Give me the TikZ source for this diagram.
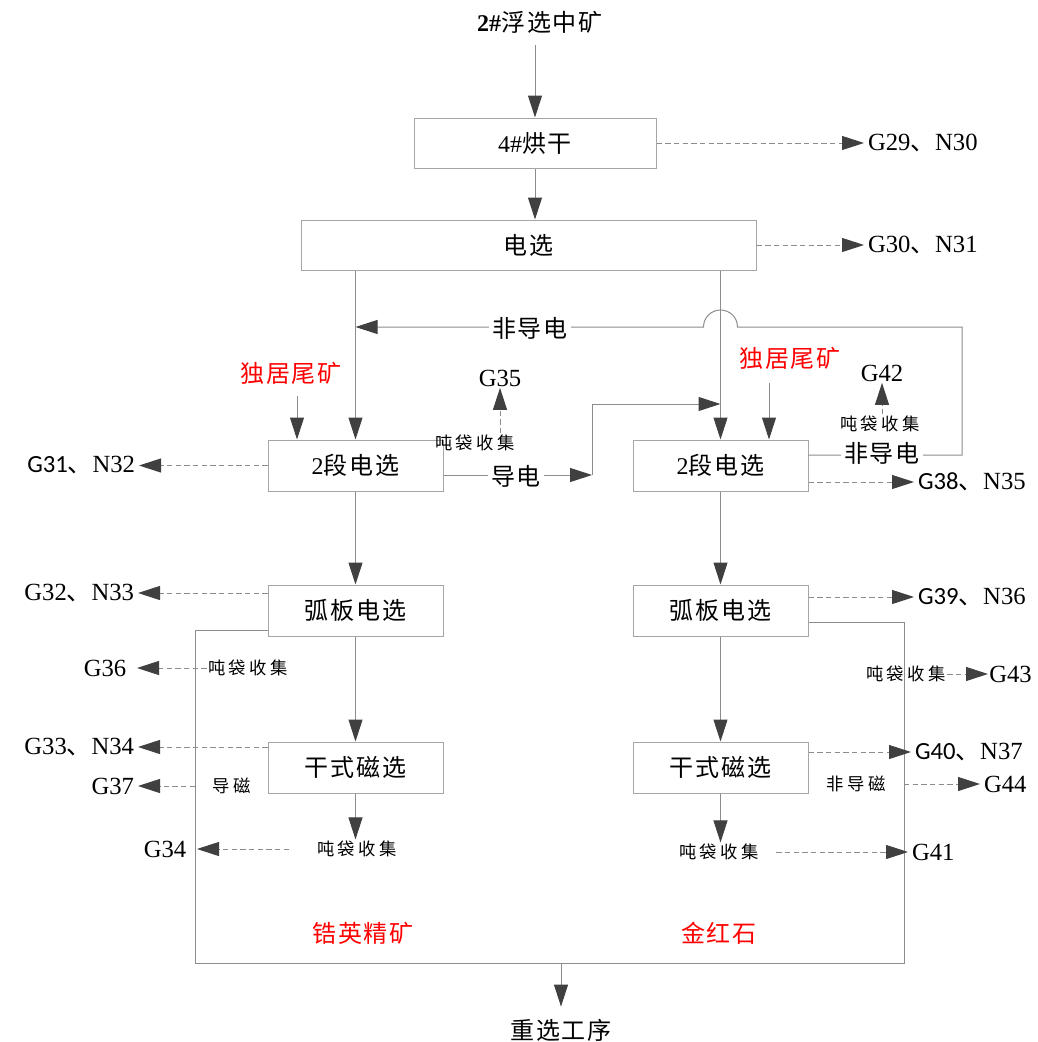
\documentclass[tikz,border=0pt]{standalone}
\usepackage{fontspec}
\setmainfont{Liberation Serif}
\newfontfamily\cjk{Noto Sans CJK SC}
\newfontfamily\cjkbox{Noto Sans CJK SC}[LetterSpace=8]
\newfontfamily\cjksm{Noto Sans CJK SC}[LetterSpace=20]
\newfontfamily\sansG{Carlito}
\usetikzlibrary{arrows.meta,calc}
\definecolor{linegray}{HTML}{8C8C8C}
\definecolor{boxgray}{HTML}{A6A6A6}
\definecolor{headgray}{HTML}{404040}
\newcommand\zh[1]{{\cjk #1}}
\newcommand\zb[1]{{\cjkbox #1}}
\newcommand\zs[1]{{\cjksm #1}}
\tikzset{
  box/.style={draw=boxgray, line width=0.75pt, minimum width=131.25pt, minimum height=38.25pt, inner sep=0pt, font=\fontsize{18}{20}\selectfont},
  txt/.style={inner sep=1pt, font=\fontsize{18}{20}\selectfont},
  onl/.style={txt, fill=white, inner sep=2pt},
  sm/.style={inner sep=1pt, font=\fontsize{13}{15}\selectfont},
  lblW/.style={anchor=west, inner sep=0pt, outer sep=3pt, font=\fontsize{18.5}{20}\selectfont},
  lblE/.style={anchor=east, inner sep=0pt, outer sep=3pt, font=\fontsize{18.5}{20}\selectfont},
  line/.style={draw=linegray, line width=0.75pt},
  arr/.style={line, -{Triangle[length=16.5pt,width=10.5pt,color=headgray]}},
  darr/.style={arr, dash pattern=on 4pt off 2.5pt},
}
\begin{document}
\begin{tikzpicture}[x=0.75pt,y=-0.75pt]
\useasboundingbox (0,0) rectangle (1038,1042);
% boxes
\node[box, minimum width=181.5pt, minimum height=37.5pt] (dry) at (535,143) {4\#\zb{烘干}};
\node[box, minimum width=341.25pt, minimum height=37.5pt] (es) at (528.5,245) {\zb{电选}};
\node[box] (L2) at (355.5,465.5) {2\zb{段电选}};
\node[box] (R2) at (720.5,465.5) {2\zb{段电选}};
\node[box] (LA) at (355.5,610.5) {\zb{弧板电选}};
\node[box] (RA) at (720.5,610.5) {\zb{弧板电选}};
\node[box] (LM) at (355.5,767.5) {\zb{干式磁选}};
\node[box] (RM) at (720.5,767.5) {\zb{干式磁选}};
% texts
\node[txt] (feed) at (540,22) {\textbf{2\#}\zb{浮选中矿}};
\node[txt, text=red] (tlL) at (291,373) {\zb{独居尾矿}};
\node[txt, text=red] (tlR) at (790,358) {\zb{独居尾矿}};
\node[txt, text=red] (zr) at (363,933) {\zb{锆英精矿}};
\node[txt, text=red] (ru) at (719,933) {\zb{金红石}};
\node[txt] (out) at (561,1030) {\zb{重选工序}};
\node[sm] (tdL) at (475,443) {\zs{吨袋收集}};
\node[sm] (tdR) at (880,424) {\zs{吨袋收集}};
\node[sm] (td36) at (248,668) {\zs{吨袋收集}};
\node[sm] (dc) at (232,786) {\zs{导磁}};
\node[sm] (tdLM) at (357,849) {\zs{吨袋收集}};
\node[sm] (tdRA) at (906,674) {\zs{吨袋收集}};
\node[sm] (fdc) at (856,784) {\zs{非导磁}};
\node[sm] (tdRM) at (719,852) {\zs{吨袋收集}};
% emission labels
\node[lblW] (g29) at (864,143) {G29\zh{、}N30};
\node[lblW] (g30) at (864,245) {G30\zh{、}N31};
\node[lblE] (g31) at (139,465.5) {{\sansG G31}\zh{、}N32};
\node[lblE] (g32) at (138,593) {G32\zh{、}N33};
\node[lblE] (g33) at (138,747) {G33\zh{、}N34};
\node[lblE, outer sep=8pt] (g36) at (137,668) {G36};
\node[lblE] (g37) at (138,786) {G37};
\node[lblE, outer sep=8pt] (g34) at (197,849) {G34};
\node[txt, font=\fontsize{18.5}{20}\selectfont] (g35) at (500,378) {G35};
\node[txt, font=\fontsize{18.5}{20}\selectfont] (g42) at (882,373) {G42};
\node[lblW] (g38) at (914,482) {{\sansG G38}\zh{、}N35};
\node[lblW] (g39) at (914,597) {{\sansG G39}\zh{、}N36};
\node[lblW] (g40) at (911,752) {{\sansG G40}\zh{、}N37};
\node[lblW, outer sep=1pt] (g43) at (988,674) {G43};
\node[lblW] (g44) at (980,784) {G44};
\node[lblW] (g41) at (908,852) {G41};
% coordinates
\coordinate (lpA) at (962,455);
\coordinate (lpB) at (962,327);
\coordinate (dA) at (592,475);
\coordinate (dB) at (592,404);
\coordinate (fA) at (195,630);
\coordinate (fB) at (195,963);
\coordinate (fC) at (904,963);
\coordinate (fD) at (904,622);
\coordinate (fM) at (561,963);
% main flow
\draw[arr] ([yshift=-8pt]feed.south -| dry.north) -- (dry.north);
\draw[arr] (dry.south) -- (dry.south |- es.north);
\draw[arr] (es.south -| L2.north) -- (L2.north);
\draw[arr] (es.south -| R2.north) -- (R2.north);
\draw[arr] ([yshift=7.875pt]R2.east) -- (lpA) -- (lpB) -- ($(R2.north |- lpB)+(17,0)$) arc[start angle=0,end angle=-180,radius=17] -- (L2.north |- lpB);
\draw[arr] ([yshift=-7.125pt]L2.east) -- (dA);
\draw[arr] (dA) -- (dB) -- (R2.north |- dB);
\draw[arr] ([shift={(4.5pt,-8pt)}]tlL.south) -- ([xshift=4.5pt]tlL.south |- L2.north);
\draw[arr] ([shift={(-15.75pt,-9pt)}]tlR.south) -- ([xshift=-15.75pt]tlR.south |- R2.north);
\draw[arr] (L2) -- (LA);
\draw[arr] (R2) -- (RA);
\draw[arr] (LA) -- (LM);
\draw[arr] (RA) -- (RM);
\draw[arr] (LM.south) -- (LM.south |- tdLM.north);
\draw[arr] (RM.south) -- (RM.south |- tdRM.north);
\draw[line] ([yshift=-14.625pt]LA.west) -- (fA) -- (fB) -- (fC) -- (fD) -- ([yshift=-8.625pt]RA.east);
\draw[arr] (fM) -- ([yshift=8pt]out.north);
% dashed emissions
\draw[darr] (g35.south |- tdL.north) -- (g35.south);
\draw[darr] (g42.south |- tdR.north) -- (g42.south);
\draw[darr] (dry.east) -- (g29.west);
\draw[darr] (es.east) -- (g30.west);
\draw[darr] (L2.west) -- (g31.east);
\draw[darr] ([yshift=-12.375pt]R2.east) -- (g38.west);
\draw[darr] ([yshift=13.125pt]LA.west) -- (g32.east);
\draw[darr] ([yshift=10.125pt]RA.east) -- (g39.west);
\draw[darr] ([yshift=15.375pt]LM.west) -- (g33.east);
\draw[darr] ([yshift=11.625pt]RM.east) -- (g40.west);
\draw[darr] (td36.west) -- (g36.east);
\draw[darr] (dc.west -| fA) -- (g37.east);
\draw[darr] ([xshift=-20pt]tdLM.west) -- (g34.east);
\draw[darr] (tdRA.east) -- (g43.west);
\draw[darr] (fdc.east -| fD) -- (g44.west);
\draw[darr] ([xshift=12pt]tdRM.east) -- (g41.west);
% labels on connectors
\node[onl] (ndL) at (530,328) {\zb{非导电}};
\node[onl] (ndR) at (882,453) {\zb{非导电}};
\node[onl] (dd) at (516,476) {\zb{导电}};
\end{tikzpicture}
\end{document}
